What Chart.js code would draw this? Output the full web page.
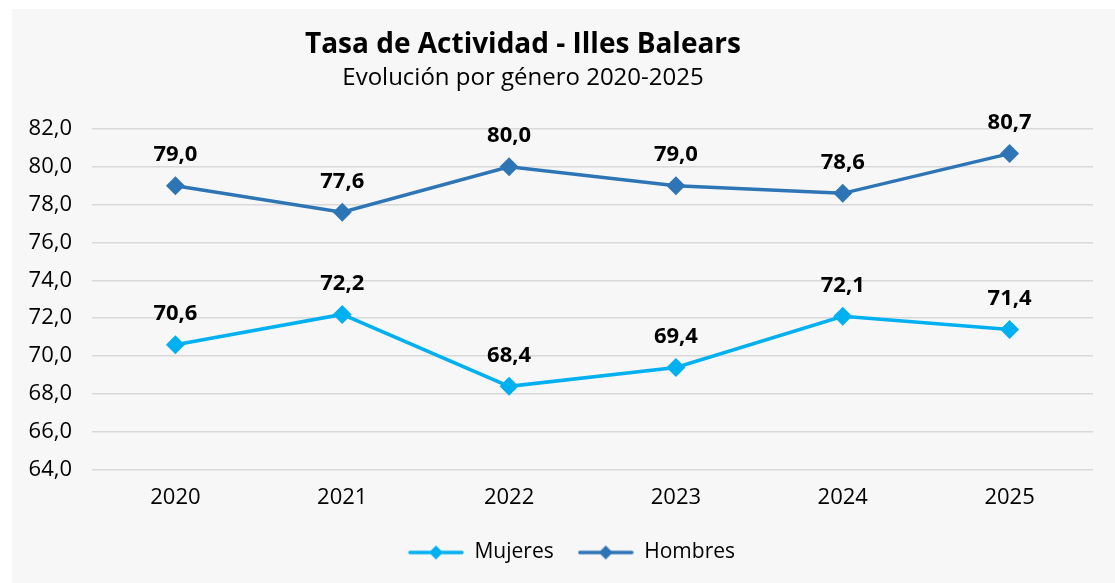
<!DOCTYPE html>
<html lang="es">
<head>
<meta charset="utf-8">
<title>Tasa de Actividad - Illes Balears</title>
<script src="https://cdn.jsdelivr.net/npm/chart.js@4.4.1/dist/chart.umd.min.js"></script>
<style>
  html, body { margin: 0; padding: 0; background: #ffffff; }
  #wrap { width: 1115px; height: 583px; position: relative; }
</style>
</head>
<body>
<div id="wrap"><canvas id="grafico" width="1115" height="583"></canvas></div>
<script>
// Datos del gráfico
const anios = ["2020", "2021", "2022", "2023", "2024", "2025"];
const mujeres = [70.6, 72.2, 68.4, 69.4, 72.1, 71.4];
const hombres = [79.0, 77.6, 80.0, 79.0, 78.6, 80.7];
const tituloTexto = "Tasa de Actividad - Illes Balears";
const subtituloTexto = "Evolución por género 2020-2025";

const colorMujeres = "#00b0f0";
const colorHombres = "#2e75b6";
const fuente = "'Open Sans', 'Noto Sans', sans-serif";

// formato con coma decimal: 79,0
const fmt = v => v.toFixed(1).replace(".", ",");

// icono de leyenda: línea con rombo en medio
function iconoLeyenda(color) {
  const c = document.createElement("canvas");
  c.width = 56; c.height = 16;
  const g = c.getContext("2d");
  g.strokeStyle = color;
  g.lineWidth = 3.5;
  g.lineCap = "round";
  g.beginPath(); g.moveTo(2, 8); g.lineTo(54, 8); g.stroke();
  g.fillStyle = color;
  g.beginPath(); g.moveTo(28, 1); g.lineTo(35, 8); g.lineTo(28, 15); g.lineTo(21, 8); g.closePath(); g.fill();
  return c;
}
const iconos = [iconoLeyenda(colorMujeres), iconoLeyenda(colorHombres)];

// fondo gris y títulos
const fondoYTitulos = {
  id: "fondoYTitulos",
  afterLayout(chart) {
    // mover un poco la leyenda para que quede como en el original
    const lg = chart.legend;
    if (lg) {
      lg.left += 20; lg.right += 20;
      lg.top -= 8; lg.bottom -= 8;
    }
  },
  beforeDraw(chart) {
    const ctx = chart.ctx;
    ctx.save();
    ctx.fillStyle = "#ffffff";
    ctx.fillRect(0, 0, chart.width, chart.height);
    ctx.fillStyle = "#f7f7f7";
    ctx.fillRect(12, 9, chart.width - 12, chart.height - 9);
    ctx.restore();
  },
  afterDraw(chart) {
    const ctx = chart.ctx;
    ctx.save();
    ctx.fillStyle = "#000000";
    ctx.textAlign = "center";
    ctx.textBaseline = "middle";
    ctx.font = "bold 28px " + fuente;
    ctx.fillText(tituloTexto, 523, 45);
    ctx.font = "24px " + fuente;
    ctx.fillText(subtituloTexto, 523, 78);
    ctx.restore();
  }
};

// etiquetas de valor encima de cada punto
const etiquetas = {
  id: "etiquetas",
  afterDatasetsDraw(chart) {
    const ctx = chart.ctx;
    ctx.save();
    ctx.fillStyle = "#000000";
    ctx.font = "bold 22px " + fuente;
    ctx.textAlign = "center";
    ctx.textBaseline = "middle";
    chart.data.datasets.forEach((ds, i) => {
      const meta = chart.getDatasetMeta(i);
      meta.data.forEach((pt, j) => {
        ctx.fillText(fmt(ds.data[j]), pt.x, pt.y - 31);
      });
    });
    ctx.restore();
  }
};

new Chart(document.getElementById("grafico"), {
  type: "line",
  data: {
    labels: anios,
    datasets: [
      {
        label: "Mujeres",
        data: mujeres,
        borderColor: colorMujeres,
        backgroundColor: colorMujeres,
        borderWidth: 3.5,
        pointStyle: "rectRot",
        pointRadius: 7,
        pointHoverRadius: 7,
        tension: 0
      },
      {
        label: "Hombres",
        data: hombres,
        borderColor: colorHombres,
        backgroundColor: colorHombres,
        borderWidth: 3.5,
        pointStyle: "rectRot",
        pointRadius: 7,
        pointHoverRadius: 7,
        tension: 0
      }
    ]
  },
  options: {
    responsive: false,
    animation: false,
    layout: { padding: { top: 129, left: 10, right: 22, bottom: 2 } },
    scales: {
      x: {
        offset: true,
        grid: { display: false, drawTicks: false },
        border: { display: false },
        ticks: { color: "#000", font: { family: fuente, size: 22 }, padding: 15 }
      },
      y: {
        min: 64,
        max: 82,
        afterFit: s => { s.width = 82; },
        grid: { color: "#d9d9d9", lineWidth: 1.5, drawTicks: false },
        border: { display: false },
        ticks: {
          stepSize: 2,
          color: "#000",
          padding: 20,
          font: { family: fuente, size: 22 },
          callback: v => fmt(v)
        }
      }
    },
    plugins: {
      title: { display: false },
      tooltip: { enabled: true },
      legend: {
        position: "bottom",
        labels: {
          usePointStyle: true,
          pointStyleWidth: 56,
          boxHeight: 16,
          padding: 24,
          color: "#000",
          font: { family: fuente, size: 21 },
          generateLabels(chart) {
            const items = Chart.defaults.plugins.legend.labels.generateLabels(chart);
            items.forEach((it, i) => { it.pointStyle = iconos[i]; });
            return items;
          }
        }
      }
    }
  },
  plugins: [fondoYTitulos, etiquetas]
});
</script>
</body>
</html>
